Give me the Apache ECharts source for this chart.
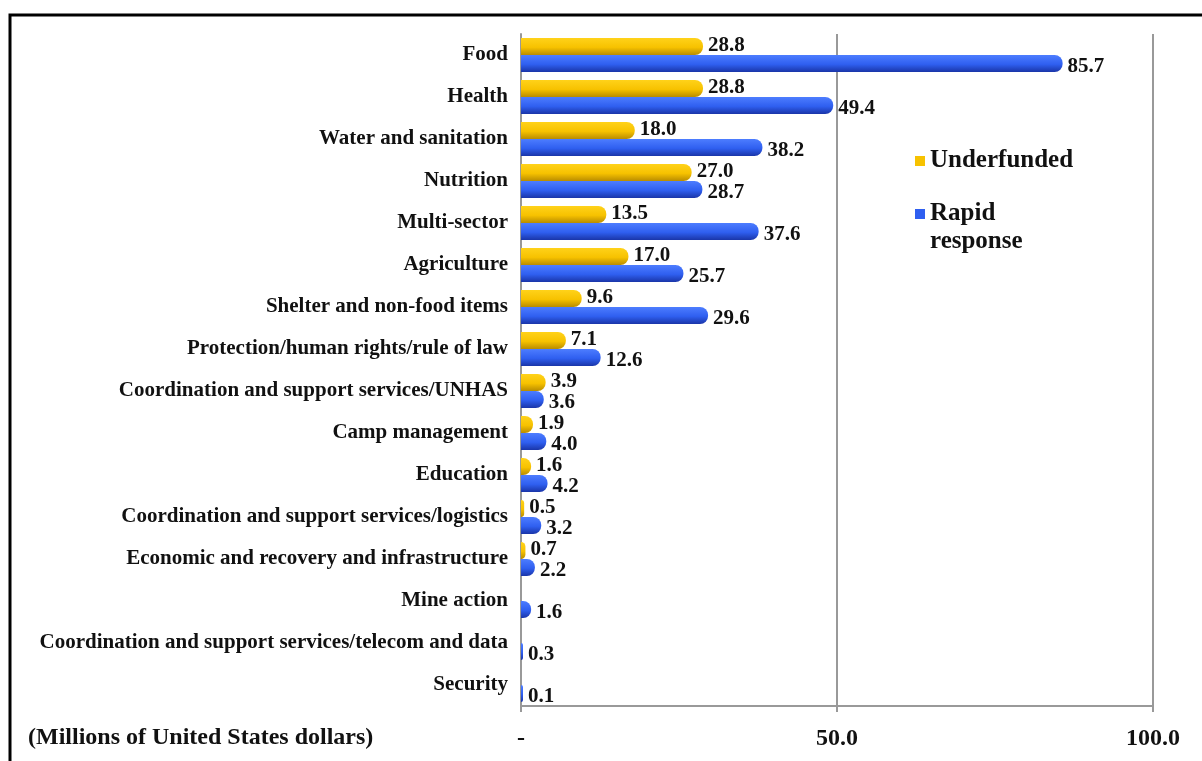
<!DOCTYPE html>
<html>
<head>
<meta charset="utf-8">
<script src="https://cdn.jsdelivr.net/npm/echarts@6/dist/echarts.min.js"></script>
<style>
html,body{margin:0;padding:0;background:#fff;}
#c{width:1202px;height:761px;}
</style>
</head>
<body>
<div id="c"></div>
<script>
const categories = [
  "Food","Health","Water and sanitation","Nutrition","Multi-sector","Agriculture",
  "Shelter and non-food items","Protection/human rights/rule of law",
  "Coordination and support services/UNHAS","Camp management","Education",
  "Coordination and support services/logistics","Economic and recovery and infrastructure",
  "Mine action","Coordination and support services/telecom and data","Security"
];
const underfunded = [28.8,28.8,18.0,27.0,13.5,17.0,9.6,7.1,3.9,1.9,1.6,0.5,0.7,null,null,null];
const rapidResponse = [85.7,49.4,38.2,28.7,37.6,25.7,29.6,12.6,3.6,4.0,4.2,3.2,2.2,1.6,0.3,0.1];
const xTickLabels = {0:"-",50:"50.0",100:"100.0"};
const unitLabel = "(Millions of United States dollars)";

const FONT = "'Liberation Serif', 'Times New Roman', serif";
const chart = echarts.init(document.getElementById('c'));
const gold = new echarts.graphic.LinearGradient(0,0,0,1,[
  {offset:0,color:'#FFD21A'},{offset:0.55,color:'#F7C200'},{offset:1,color:'#B98C00'}]);
const blue = new echarts.graphic.LinearGradient(0,0,0,1,[
  {offset:0,color:'#4D7DFF'},{offset:0.55,color:'#2F5FF0'},{offset:1,color:'#1A35A8'}]);
const legendText = {fontFamily:FONT,fontWeight:'bold',fontSize:25,color:'#111',lineHeight:28};

chart.setOption({
  backgroundColor:'#fff',
  animation:false,
  grid:{left:521,right:49,top:34,bottom:55,containLabel:false},
  legend:[
    {orient:'vertical', left:915, top:147, padding:0, itemWidth:10, itemHeight:10, icon:'rect',
     textStyle:legendText, data:[{name:'Underfunded',itemStyle:{color:'#F7C200'}}]},
    {orient:'vertical', left:915, top:172, padding:0, itemWidth:10, itemHeight:10, icon:'rect',
     textStyle:legendText,
     formatter:function(n){return '\nRapid\nresponse';},
     data:[{name:'Rapid response',itemStyle:{color:'#2F5FF0'}}]}
  ],
  xAxis:{
    type:'value', min:0, max:100, interval:50,
    axisLine:{show:true,lineStyle:{color:'#999',width:2}},
    axisTick:{show:true,length:6,lineStyle:{color:'#999',width:2}},
    splitLine:{show:true,lineStyle:{color:'#999',width:2}},
    axisLabel:{fontFamily:FONT,fontWeight:'bold',fontSize:24,color:'#111',margin:21,
      formatter:function(v){return xTickLabels[v]!==undefined?xTickLabels[v]:'';}}
  },
  yAxis:{
    type:'category', inverse:true, data:categories,
    axisLine:{show:true,lineStyle:{color:'#999',width:2}},
    axisTick:{show:false},
    axisLabel:{fontFamily:FONT,fontWeight:'bold',fontSize:21,color:'#111',margin:13}
  },
  series:[
    {name:'Underfunded',type:'bar',data:underfunded,barWidth:17,barGap:'0%',barMinHeight:2,
     itemStyle:{color:gold,borderRadius:[0,8,8,0]},
     label:{show:true,position:'right',offset:[0,-1],distance:5,fontFamily:FONT,fontWeight:'bold',fontSize:21,color:'#111',
       formatter:function(p){return p.value.toFixed(1);}}},
    {name:'Rapid response',type:'bar',data:rapidResponse,barWidth:17,barGap:'0%',barMinHeight:2,
     itemStyle:{color:blue,borderRadius:[0,8,8,0]},
     label:{show:true,position:'right',offset:[0,3],distance:5,fontFamily:FONT,fontWeight:'bold',fontSize:21,color:'#111',
       formatter:function(p){return p.value.toFixed(1);}}}
  ],
  graphic:[
    {type:'polyline',shape:{points:[[10,761],[10,15],[1202,15]]},style:{stroke:'#000',lineWidth:3,fill:null},silent:true},
    {type:'text',left:28,top:726,style:{text:unitLabel,font:"bold 24px 'Liberation Serif', serif",fill:'#111'}}
  ]
});
</script>
</body>
</html>
